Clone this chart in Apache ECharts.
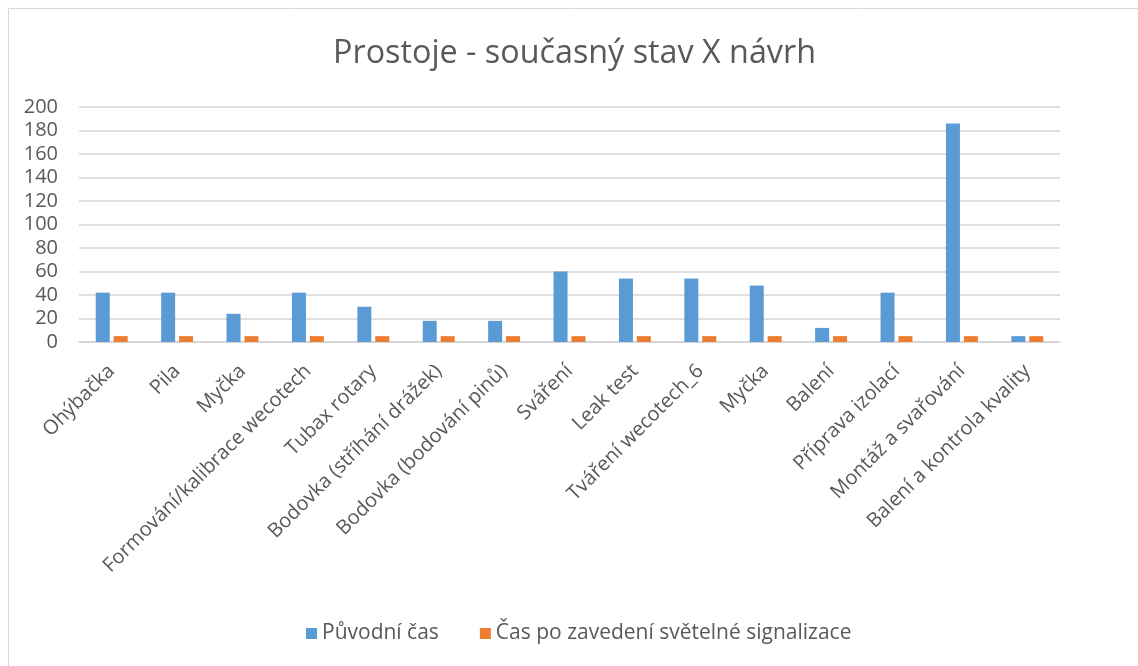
<!DOCTYPE html>
<html>
<head>
<meta charset="utf-8">
<title>Prostoje</title>
<script src="https://cdn.jsdelivr.net/npm/echarts@6/dist/echarts.min.js"></script>
<style>
  html, body { margin: 0; padding: 0; background: #fff; }
  #main { width: 1138px; height: 666px; }
</style>
</head>
<body>
<div id="main"></div>
<script>
// categories on the x axis
const categories = ['Ohýbačka', 'Pila', 'Myčka', 'Formování/kalibrace wecotech', 'Tubax rotary',
  'Bodovka (stříhání drážek)', 'Bodovka (bodování pinů)', 'Sváření', 'Leak test',
  'Tváření wecotech_6', 'Myčka', 'Balení', 'Příprava izolací', 'Montáž a svařování',
  'Balení a kontrola kvality'];
const seriesNames = ['Původní čas', 'Čas po zavedení světelné signalizace'];
const puvodni = [42, 42, 24, 42, 30, 18, 18, 60, 54, 54, 48, 12, 42, 186, 5];
const poZavedeni = [5, 5, 5, 5, 5, 5, 5, 5, 5, 5, 5, 5, 5, 5, 5];
const yTicks = [0, 20, 40, 60, 80, 100, 120, 140, 160, 180, 200];

const font = '"Open Sans", "DejaVu Sans", sans-serif';
const chart = echarts.init(document.getElementById('main'));
chart.setOption({
  animation: false,
  backgroundColor: '#fff',
  color: ['#5b9bd5', '#ed7d31'],
  graphic: [{
    type: 'rect',
    shape: { x: 8.5, y: 8.5, width: 1160, height: 700 },
    style: { fill: 'none', stroke: '#d9d9d9', lineWidth: 1 },
    silent: true
  }],
  title: {
    text: 'Prostoje - současný stav X návrh',
    left: 328,
    top: 33,
    textStyle: { fontFamily: font, fontSize: 32.3, fontWeight: 'normal', color: '#595959' }
  },
  legend: {
    data: seriesNames,
    top: 618,
    left: 301,
    itemWidth: 11,
    itemHeight: 11,
    itemGap: 41,
    icon: 'rect',
    textStyle: { fontFamily: font, fontSize: 21, color: '#595959' }
  },
  grid: { left: 79, right: 78, top: 107, bottom: 324, containLabel: false },
  xAxis: {
    type: 'category',
    data: categories,
    axisLine: { lineStyle: { color: '#d4d4d4', width: 1.5 } },
    axisTick: { show: false },
    axisLabel: {
      rotate: 45,
      interval: 0,
      margin: 26,
      fontFamily: font,
      fontSize: 20,
      color: '#595959'
    }
  },
  yAxis: {
    type: 'value',
    min: yTicks[0],
    max: yTicks[yTicks.length - 1],
    interval: 20,
    axisLine: { show: false },
    axisTick: { show: false },
    splitLine: { lineStyle: { color: '#d4d4d4', width: 1.5 } },
    axisLabel: { fontFamily: font, fontSize: 20, color: '#595959', margin: 21 }
  },
  series: [
    { name: seriesNames[0], type: 'bar', data: puvodni, barWidth: 14, barGap: '28%' },
    { name: seriesNames[1], type: 'bar', data: poZavedeni, barWidth: 14, barGap: '28%' }
  ]
});
</script>
</body>
</html>
